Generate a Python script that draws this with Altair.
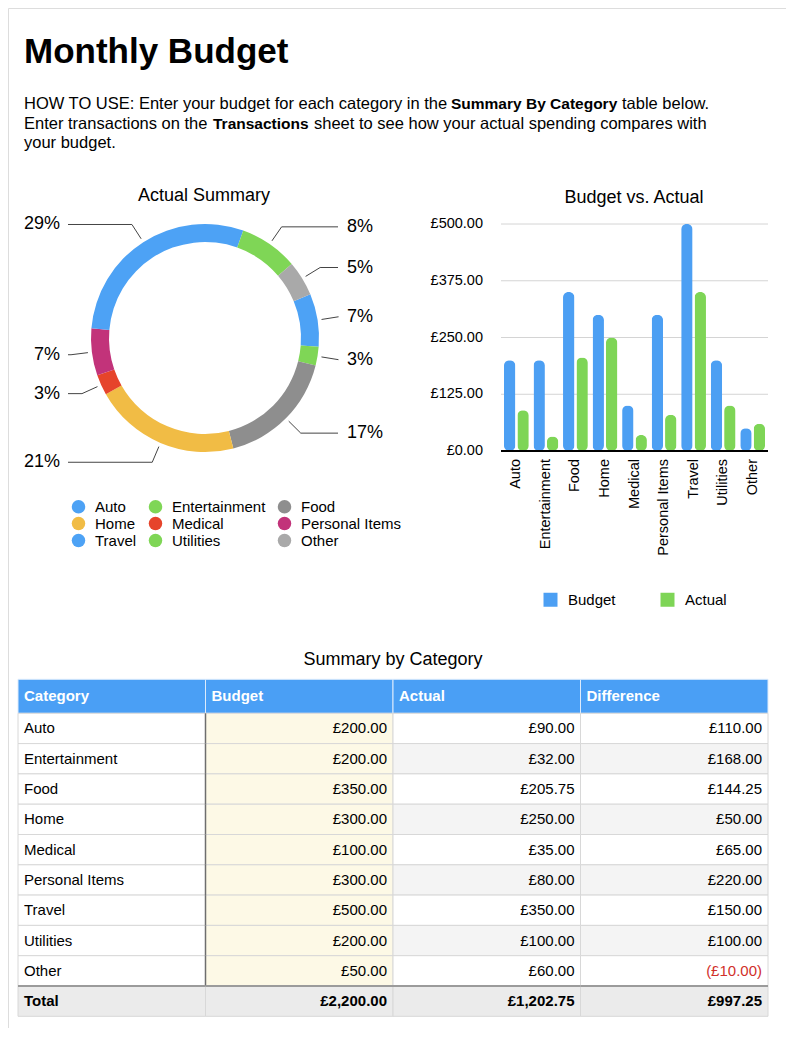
import math
import altair as alt
import pandas as pd

FONT = "Liberation Sans"

# ---------------- data ----------------
CATEGORIES = ["Auto", "Entertainment", "Food", "Home", "Medical",
              "Personal Items", "Travel", "Utilities", "Other"]
BUDGET = [200, 200, 350, 300, 100, 300, 500, 200, 50]
ACTUAL = [90, 32, 205.75, 250, 35, 80, 350, 100, 60]
SERIES = ["Budget", "Actual"]
Y_TICKS = [0, 125, 250, 375, 500]
TABLE_COLUMNS = ["Category", "Budget", "Actual", "Difference"]

TITLE = "Monthly Budget"
LINE1 = ["HOW TO USE: Enter your budget for each category in the", "Summary By Category", "table below."]
LINE2 = ["Enter transactions on the", "Transactions", "sheet to see how your actual spending compares with"]
LINE3 = "your budget."

# ---------------- styles ----------------
PIE_COLORS = ["#4DA2F5", "#7FD656", "#8E8E8E", "#F1BC45", "#E6442B",
              "#C2337A", "#4DA2F5", "#7FD656", "#A9A9A9"]
BAR_COLORS = ["#4C9FF3", "#7ED556"]
HEADER_BLUE = "#4A9FF5"

# legend shows categories row by row in 3 columns (Vega fills columns first)
LEGEND_ORDER = [CATEGORIES[r * 3 + c] for c in range(3) for r in range(3)]
LEGEND_COLORS = [PIE_COLORS[CATEGORIES.index(c)] for c in LEGEND_ORDER]

# layout (chart pixel space)
CX, CY = 197, 330
R_IN, R_OUT = 96, 114
R_LEAD0, R_LEAD1 = 118, 135
START = math.radians(67.5)


def text_at(text, x, y, size, weight="normal", align="left", baseline="alphabetic", color="black"):
    return alt.Chart(pd.DataFrame({"t": [text]})).mark_text(
        align=align, baseline=baseline, fontSize=size, fontWeight=weight,
        font=FONT, color=color
    ).encode(text="t:N", x=alt.value(x), y=alt.value(y))


# ---------------- header ----------------
header_layers = [
    text_at(TITLE, 16, 55, 35, weight="bold"),
    text_at(LINE1[0], 16, 101, 16.5),
    text_at(LINE1[1], 443, 101, 15.5, weight="bold"),
    text_at(LINE1[2], 614, 101, 16.5),
    text_at(LINE2[0], 16, 121, 16.5),
    text_at(LINE2[1], 205, 121, 15.5, weight="bold"),
    text_at(LINE2[2], 306, 121, 16.5),
    text_at(LINE3, 16, 140, 16.5),
]

# ---------------- donut ----------------
pie_df = pd.DataFrame({"category": CATEGORIES, "actual": ACTUAL,
                       "idx": list(range(len(CATEGORIES)))})

pie_base = (
    alt.Chart(pie_df)
    .transform_joinaggregate(total="sum(actual)")
    .transform_window(cum="sum(actual)", sort=[alt.SortField("idx", order="ascending")],
                      frame=[None, 0])
    .transform_calculate(f1="datum.cum / datum.total")
    .transform_calculate(f0="(datum.cum - datum.actual) / datum.total")
    .transform_calculate(mid=f"{START} + PI * (datum.f0 + datum.f1)")
    .transform_calculate(ax=f"{CX} + {R_LEAD0} * sin(datum.mid)")
    .transform_calculate(ay=f"{CY} - {R_LEAD0} * cos(datum.mid)")
    .transform_calculate(bx=f"{CX} + {R_LEAD1} * sin(datum.mid)")
    .transform_calculate(by=f"{CY} - {R_LEAD1} * cos(datum.mid)")
    .transform_calculate(right="sin(datum.mid) >= 0")
    .transform_calculate(ex="datum.right ? 330 : 60")
    .transform_calculate(pct="format(datum.actual / datum.total, '.0%')")
)

arcs = pie_base.mark_arc(innerRadius=R_IN, outerRadius=R_OUT).encode(
    theta=alt.Theta("f0:Q", scale=alt.Scale(domain=[0, 1], range=[START, START + 2 * math.pi]),
                    stack=False),
    theta2=alt.Theta2("f1:Q"),
    color=alt.Color(
        "category:N",
        scale=alt.Scale(domain=LEGEND_ORDER, range=LEGEND_COLORS),
        legend=alt.Legend(
            orient="none", legendX=63, legendY=491, columns=3, title=None,
            symbolType="circle", symbolSize=182, symbolStrokeWidth=0, symbolOpacity=1,
            labelFontSize=15, labelFont=FONT, labelColor="black", labelOffset=9,
            columnPadding=11, rowPadding=1, padding=0, labelLimit=300,
        ),
    ),
    x=alt.value(CX),
    y=alt.value(CY),
)

lead_diag = pie_base.mark_rule(color="#444444", strokeWidth=1).encode(
    x=alt.X("ax:Q", scale=None, axis=None), y=alt.Y("ay:Q", scale=None, axis=None),
    x2="bx:Q", y2="by:Q",
)
lead_horiz = pie_base.mark_rule(color="#444444", strokeWidth=1).encode(
    x=alt.X("bx:Q", scale=None, axis=None), x2="ex:Q",
    y=alt.Y("by:Q", scale=None, axis=None),
)
lbl_right = pie_base.transform_filter("datum.right").mark_text(
    align="left", baseline="middle", fontSize=18, font=FONT, color="black"
).encode(x=alt.value(339), y=alt.Y("by:Q", scale=None, axis=None), text="pct:N")
lbl_left = pie_base.transform_filter("!datum.right").mark_text(
    align="right", baseline="middle", fontSize=18, font=FONT, color="black"
).encode(x=alt.value(52), y=alt.Y("by:Q", scale=None, axis=None), text="pct:N")

pie_title = text_at("Actual Summary", 196, 193, 18, align="center")

# ---------------- bar chart ----------------
bar_df = pd.DataFrame({"category": CATEGORIES, "Budget": BUDGET, "Actual": ACTUAL})
tick_df = pd.DataFrame({"v": Y_TICKS})

xscale = alt.Scale(domain=CATEGORIES, range=[493, 760], paddingInner=0.16, paddingOuter=0.1)
yscale = alt.Scale(domain=[0, 500], range=[443, 216])

grid = alt.Chart(tick_df).transform_filter("datum.v > 0").mark_rule(
    color="#D4D4D4", strokeWidth=1
).encode(y=alt.Y("v:Q", scale=yscale, axis=None), x=alt.value(493), x2=alt.value(760))

baseline_rule = alt.Chart(tick_df).transform_filter("datum.v == 0").mark_rule(
    color="black", strokeWidth=2
).encode(y=alt.Y("v:Q", scale=yscale, axis=None), x=alt.value(493), x2=alt.value(760))

bars = alt.Chart(bar_df).transform_fold(SERIES, as_=["series", "value"]).mark_bar(
    cornerRadius=5.5
).encode(
    x=alt.X("category:N", scale=xscale, axis=None),
    xOffset=alt.XOffset("series:N", scale=alt.Scale(domain=SERIES, paddingInner=0.15)),
    y=alt.Y("value:Q", scale=yscale, axis=None),
    color=alt.Color(
        "series:N",
        scale=alt.Scale(domain=SERIES, range=BAR_COLORS),
        legend=alt.Legend(
            orient="none", legendX=535, legendY=584, direction="horizontal", title=None,
            symbolType="square", symbolSize=196, symbolStrokeWidth=0, symbolOpacity=1,
            labelFontSize=15, labelFont=FONT, labelColor="black", labelOffset=10,
            columnPadding=44, padding=0,
        ),
    ),
)

ylabels = alt.Chart(tick_df).transform_calculate(
    lab="'£' + format(datum.v, ',.2f')"
).mark_text(align="right", baseline="middle", fontSize=14.5, font=FONT, color="black").encode(
    y=alt.Y("v:Q", scale=yscale, axis=None), x=alt.value(475), text="lab:N"
)

xlabels = alt.Chart(bar_df).mark_text(
    align="right", baseline="middle", angle=270, fontSize=14.5, font=FONT, color="black"
).encode(x=alt.X("category:N", scale=xscale, axis=None), y=alt.value(451), text="category:N")

bar_title = text_at("Budget vs. Actual", 626, 195, 18, align="center")

bar_group = alt.layer(grid, bars, baseline_rule, ylabels, xlabels)

# ---------------- table ----------------
def money(v):
    return f"£{v:,.2f}" if v >= 0 else f"(£{-v:,.2f})"


rows = CATEGORIES + ["Total"]
budget_vals = BUDGET + [sum(BUDGET)]
actual_vals = ACTUAL + [sum(ACTUAL)]
recs = []
for i, r in enumerate(rows):
    b, a = budget_vals[i], actual_vals[i]
    d = b - a
    is_total = r == "Total"
    for c, v in zip(TABLE_COLUMNS, [None, b, a, d]):
        if is_total:
            kind = "total"
        elif c == "Budget":
            kind = "budget"
        elif c in ("Actual", "Difference") and i % 2 == 1:
            kind = "stripe"
        else:
            kind = "plain"
        recs.append({
            "row": r, "col": c,
            "text": r if v is None else money(v),
            "neg": bool(v is not None and v < 0),
            "total": is_total, "kind": kind,
        })
table_df = pd.DataFrame(recs)
head_df = pd.DataFrame({"col": TABLE_COLUMNS, "row": ["Header"] * 4})

col_scale = alt.Scale(domain=TABLE_COLUMNS, range=[10, 760], paddingInner=0, paddingOuter=0)
head_scale = alt.Scale(domain=["Header"], range=[671.3, 705.3], paddingInner=0, paddingOuter=0)
row_scale = alt.Scale(domain=rows, range=[705.3, 1008.3], paddingInner=0, paddingOuter=0)

head_rect = alt.Chart(head_df).mark_rect(fill=HEADER_BLUE, stroke="#DCEBFC", strokeWidth=1).encode(
    x=alt.X("col:N", scale=col_scale, axis=None), y=alt.Y("row:N", scale=head_scale, axis=None)
)
head_text = alt.Chart(head_df).mark_text(
    align="left", baseline="middle", dx=6, fontSize=15, fontWeight="bold", font=FONT, color="white"
).encode(
    x=alt.X("col:N", scale=col_scale, axis=None, bandPosition=0),
    y=alt.Y("row:N", scale=head_scale, axis=None), text="col:N",
)
head_group = alt.layer(head_rect, head_text)

body_rect = alt.Chart(table_df).mark_rect(stroke="#D8D8D8", strokeWidth=1).encode(
    x=alt.X("col:N", scale=col_scale, axis=None),
    y=alt.Y("row:N", scale=row_scale, axis=None),
    fill=alt.Fill("kind:N", scale=alt.Scale(domain=["plain", "budget", "stripe", "total"],
                                            range=["#FFFFFF", "#FDF9E6", "#F4F4F4", "#EBEBEB"]),
                  legend=None),
)
vline = alt.Chart(table_df).transform_filter("datum.col == 'Budget' && !datum.total").mark_tick(
    orient="vertical", size=30.3, thickness=1.5, color="#6E6E6E", opacity=1
).encode(
    x=alt.X("col:N", scale=col_scale, axis=None, bandPosition=0),
    y=alt.Y("row:N", scale=row_scale, axis=None),
)
hline = alt.Chart(table_df).transform_filter("datum.total").mark_tick(
    orient="horizontal", size=187.5, thickness=2, color="#9B9B9B", opacity=1
).encode(
    x=alt.X("col:N", scale=col_scale, axis=None),
    y=alt.Y("row:N", scale=row_scale, axis=None, bandPosition=0),
)


def body_text(filter_expr, align, band_pos, dx, weight):
    return alt.Chart(table_df).transform_filter(filter_expr).mark_text(
        align=align, baseline="middle", dx=dx, fontSize=15, fontWeight=weight, font=FONT
    ).encode(
        x=alt.X("col:N", scale=col_scale, axis=None, bandPosition=band_pos),
        y=alt.Y("row:N", scale=row_scale, axis=None),
        text="text:N",
        color=alt.condition("datum.neg", alt.value("#D12F2A"), alt.value("black")),
    )


cat_txt = body_text("datum.col == 'Category' && !datum.total", "left", 0, 6, "normal")
val_txt = body_text("datum.col != 'Category' && !datum.total", "right", 1, -6, "normal")
tot_cat = body_text("datum.col == 'Category' && datum.total", "left", 0, 6, "bold")
tot_val = body_text("datum.col != 'Category' && datum.total", "right", 1, -6, "bold")

body_group = alt.layer(body_rect, vline, hline, cat_txt, val_txt, tot_cat, tot_val)
table_group = alt.layer(head_group, body_group).resolve_scale(y="independent")

table_title = text_at("Summary by Category", 385, 657, 18, align="center")

# ---------------- assemble ----------------
chart = alt.layer(
    *header_layers,
    arcs, lead_diag, lead_horiz, lbl_right, lbl_left, pie_title,
    bar_group, bar_title,
    table_group, table_title,
).resolve_scale(
    x="independent", y="independent", color="independent", fill="independent",
    theta="independent", xOffset="independent",
).resolve_legend(color="independent").properties(
    width=778, height=1020, padding=0, autosize=alt.AutoSizeParams(type="none"),
).configure_view(stroke=None).configure(font=FONT)

chart.save("out.html", embed_options={"renderer": "svg", "actions": False})
